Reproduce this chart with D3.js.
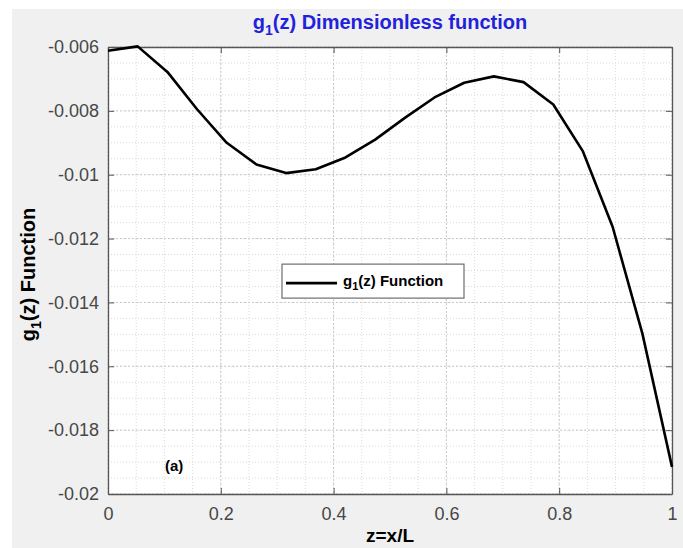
<!DOCTYPE html>
<html>
<head>
<meta charset="utf-8">
<script src="https://cdn.jsdelivr.net/npm/d3@7"></script>
<style>
  body { margin: 0; background: #fff; }
  svg { display: block; font-family: "Liberation Sans", Arial, sans-serif; }
</style>
</head>
<body>
<svg id="chart" width="683" height="548"></svg>
<script>
// z = x/L sample points and the g1(z) values
const zValues = [0, 0.0526, 0.1053, 0.1579, 0.2105, 0.2632, 0.3158, 0.3684, 0.4211, 0.4737,
  0.5263, 0.5789, 0.6316, 0.6842, 0.7368, 0.7895, 0.8421, 0.8947, 0.9474, 1];
const g1Values = [-0.00612, -0.00598, -0.00678, -0.00795, -0.00900, -0.00968, -0.00995, -0.00983,
  -0.00946, -0.00890, -0.00822, -0.00758, -0.00712, -0.00692, -0.00710, -0.00780, -0.00927,
  -0.01163, -0.01497, -0.01915];
const xTicks = [0, 0.2, 0.4, 0.6, 0.8, 1];
const yTicks = [-0.02, -0.018, -0.016, -0.014, -0.012, -0.01, -0.008, -0.006];
const yTickLabels = ['-0.02', '-0.018', '-0.016', '-0.014', '-0.012', '-0.01', '-0.008', '-0.006'];

const svg = d3.select('#chart');
const margin = { top: 47, left: 108, right: 11, bottom: 54 };
const width = 683 - margin.left - margin.right;
const height = 548 - margin.top - margin.bottom;

// figure background
svg.append('rect')
  .attr('x', 12).attr('y', 9)
  .attr('width', 671).attr('height', 539)
  .attr('fill', '#f0f0f0');

const x = d3.scaleLinear().domain([0, 1]).range([0, width]);
const y = d3.scaleLinear().domain([-0.02, -0.006]).range([height, 0]);

const g = svg.append('g').attr('transform', `translate(${margin.left},${margin.top})`);

g.append('rect')
  .attr('width', width).attr('height', height)
  .attr('fill', '#fff');

// minor grid
const xMinor = d3.range(0, 1.0001, 0.05);
const yMinor = d3.range(-0.02, -0.00599, 0.0005);
g.append('g')
  .selectAll('line')
  .data(xMinor)
  .join('line')
  .attr('x1', d => x(d)).attr('x2', d => x(d))
  .attr('y1', 0).attr('y2', height)
  .attr('stroke', '#dadada')
  .attr('stroke-dasharray', '1,2');
g.append('g')
  .selectAll('line')
  .data(yMinor)
  .join('line')
  .attr('x1', 0).attr('x2', width)
  .attr('y1', d => y(d)).attr('y2', d => y(d))
  .attr('stroke', '#dadada')
  .attr('stroke-dasharray', '1,2');

// major grid
g.append('g')
  .selectAll('line')
  .data(xTicks)
  .join('line')
  .attr('x1', d => x(d)).attr('x2', d => x(d))
  .attr('y1', 0).attr('y2', height)
  .attr('stroke', '#cacaca')
  .attr('stroke-dasharray', '2,2');
g.append('g')
  .selectAll('line')
  .data(yTicks)
  .join('line')
  .attr('x1', 0).attr('x2', width)
  .attr('y1', d => y(d)).attr('y2', d => y(d))
  .attr('stroke', '#cacaca')
  .attr('stroke-dasharray', '2,2');

// axes with inward ticks
const axisColor = '#555';
const xAxis = g.append('g')
  .attr('transform', `translate(0,${height})`)
  .call(d3.axisBottom(x).tickValues(xTicks).tickSizeInner(-6).tickSizeOuter(0)
    .tickFormat(d3.format('~g')).tickPadding(13));
const xTop = g.append('g')
  .call(d3.axisTop(x).tickValues(xTicks).tickSizeInner(-6).tickSizeOuter(0).tickFormat(''));
const yAxis = g.append('g')
  .call(d3.axisLeft(y).tickValues(yTicks).tickSizeInner(-6).tickSizeOuter(0)
    .tickFormat((d, i) => yTickLabels[i]).tickPadding(9));
const yRight = g.append('g')
  .attr('transform', `translate(${width},0)`)
  .call(d3.axisRight(y).tickValues(yTicks).tickSizeInner(-6).tickSizeOuter(0).tickFormat(''));

[xAxis, xTop, yAxis, yRight].forEach((a) => {
  a.select('.domain').attr('stroke', axisColor).attr('stroke-width', 1.3);
  a.selectAll('.tick line').attr('stroke', axisColor);
  a.selectAll('.tick text')
    .attr('fill', '#474747')
    .style('font-size', '18px')
    .style('font-family', '"Liberation Sans", Arial, sans-serif');
});

// curve
const line = d3.line()
  .x((d, i) => x(zValues[i]))
  .y(d => y(d));
g.append('path')
  .datum(g1Values)
  .attr('d', line)
  .attr('fill', 'none')
  .attr('stroke', '#000')
  .attr('stroke-width', 2.6)
  .attr('stroke-linejoin', 'round');

// title
const title = svg.append('text')
  .attr('x', margin.left + width / 2)
  .attr('y', 29)
  .attr('text-anchor', 'middle')
  .attr('fill', '#2222dd')
  .style('font-size', '20px')
  .style('font-weight', 'bold');
title.append('tspan').text('g');
title.append('tspan').attr('dy', 6).style('font-size', '14px').text('1');
title.append('tspan').attr('dy', -6).text('(z) Dimensionless function');

// axis titles
svg.append('text')
  .attr('x', margin.left + width / 2)
  .attr('y', 542)
  .attr('text-anchor', 'middle')
  .style('font-size', '19px')
  .style('font-weight', 'bold')
  .text('z=x/L');

const yTitle = svg.append('text')
  .attr('transform', `translate(35,${margin.top + height / 2 + 4}) rotate(-90)`)
  .attr('text-anchor', 'middle')
  .style('font-size', '20px')
  .style('font-weight', 'bold');
yTitle.append('tspan').text('g');
yTitle.append('tspan').attr('dy', 6).style('font-size', '14px').text('1');
yTitle.append('tspan').attr('dy', -6).text('(z) Function');

// legend
const legend = g.append('g').attr('transform', `translate(${x(0.3085)},${y(-0.0128)})`);
legend.append('rect')
  .attr('width', 182).attr('height', 34)
  .attr('fill', '#fff')
  .attr('stroke', '#6e6e6e')
  .attr('stroke-width', 1.2);
legend.append('line')
  .attr('x1', 4).attr('x2', 55)
  .attr('y1', 19).attr('y2', 19)
  .attr('stroke', '#000')
  .attr('stroke-width', 2.8);
const legText = legend.append('text')
  .attr('x', 61).attr('y', 22)
  .style('font-size', '15px')
  .style('font-weight', 'bold');
legText.append('tspan').text('g');
legText.append('tspan').attr('dy', 4).style('font-size', '11px').text('1');
legText.append('tspan').attr('dy', -4).text('(z) Function');

// panel label
g.append('text')
  .attr('x', x(0.101))
  .attr('y', y(-0.01928))
  .style('font-size', '15px')
  .style('font-weight', 'bold')
  .text('(a)');
</script>
</body>
</html>
